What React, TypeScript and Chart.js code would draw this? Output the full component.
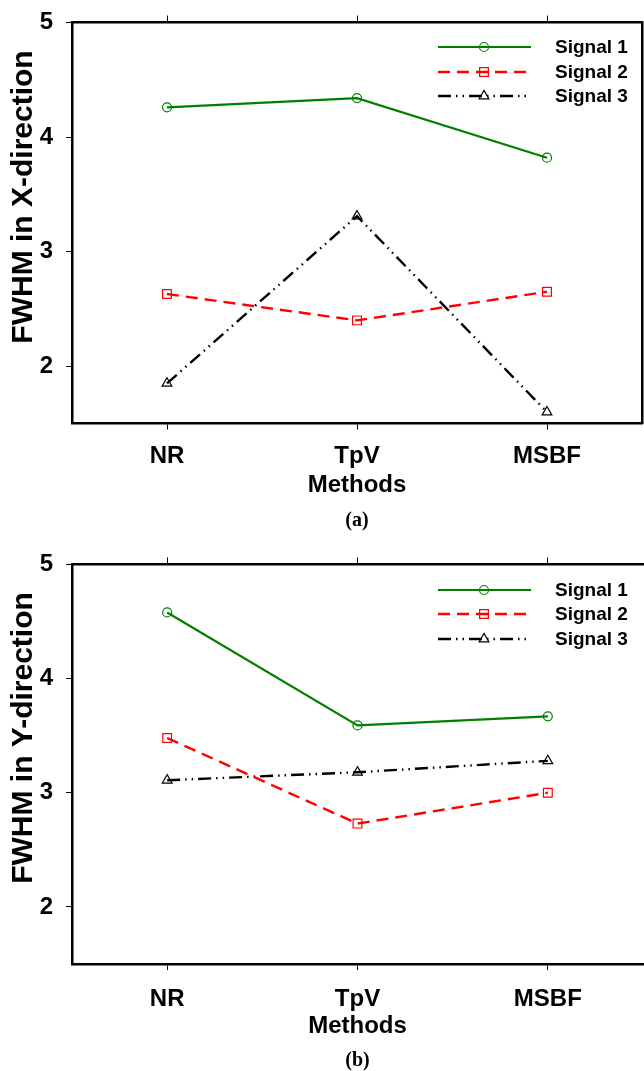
import React, { useEffect, useRef } from "react";
import { Chart, registerables } from "chart.js";

Chart.register(...registerables);

// ---------- data ----------
const methods = ["NR", "TpV", "MSBF"];
const seriesNames = ["Signal 1", "Signal 2", "Signal 3"];
const xDirSignal1 = [4.26, 4.34, 3.82];
const xDirSignal2 = [2.63, 2.4, 2.65];
const xDirSignal3 = [1.85, 3.31, 1.6];
const yDirSignal1 = [4.58, 3.59, 3.67];
const yDirSignal2 = [3.48, 2.73, 3.0];
const yDirSignal3 = [3.11, 3.18, 3.28];
const yTickValues = [2, 3, 4, 5];
const yMin = 1.5;
const yMax = 5;

// ---------- styles ----------
const FONT = '"Liberation Sans", Arial, sans-serif';
const seriesStyles = [
  { color: "#008000", dash: [] as number[], point: "circle", radius: 4.5, width: 2.2 },
  { color: "#ff0000", dash: [12, 7], point: "rect", radius: 6.2, width: 2.4 },
  { color: "#000000", dash: [13, 5, 1.5, 5, 1.5, 5], point: "triangle", radius: 5.6, width: 2.4 },
];

function drawMarker(ctx: CanvasRenderingContext2D, style: string, r: number, x: number, y: number) {
  ctx.beginPath();
  if (style === "circle") {
    ctx.arc(x, y, r, 0, Math.PI * 2);
  } else if (style === "rect") {
    const s = r / Math.SQRT2;
    ctx.rect(x - s, y - s, 2 * s, 2 * s);
  } else {
    let a = 0;
    ctx.moveTo(x + Math.sin(a) * r, y - Math.cos(a) * r);
    a += (2 * Math.PI) / 3;
    ctx.lineTo(x + Math.sin(a) * r, y - Math.cos(a) * r);
    a += (2 * Math.PI) / 3;
    ctx.lineTo(x + Math.sin(a) * r, y - Math.cos(a) * r);
    ctx.closePath();
  }
  ctx.stroke();
}

const customLegend = {
  id: "customLegend",
  afterDatasetsDraw(chart: any, _args: any, opts: any) {
    const ctx: CanvasRenderingContext2D = chart.ctx;
    chart.data.datasets.forEach((ds: any, i: number) => {
      const st = seriesStyles[i];
      const y = opts.ys[i];
      ctx.save();
      ctx.strokeStyle = st.color;
      ctx.lineWidth = st.width;
      ctx.setLineDash(st.dash);
      ctx.beginPath();
      ctx.moveTo(opts.x0, y);
      ctx.lineTo(opts.x1, y);
      ctx.stroke();
      ctx.setLineDash([]);
      ctx.lineWidth = 1.2;
      drawMarker(ctx, st.point, st.radius, opts.xm, y);
      ctx.fillStyle = "#000";
      ctx.font = `bold 19px ${FONT}`;
      ctx.textAlign = "left";
      ctx.textBaseline = "middle";
      ctx.fillText(ds.label, opts.xt, y + 1);
      ctx.restore();
    });
  },
};

const panelText = {
  id: "panelText",
  afterDraw(chart: any, _args: any, opts: any) {
    const ctx: CanvasRenderingContext2D = chart.ctx;
    const { left, right } = chart.chartArea;
    ctx.save();
    ctx.fillStyle = "#000";
    ctx.font = `bold 20px "Liberation Serif", "Times New Roman", serif`;
    ctx.textAlign = "center";
    ctx.textBaseline = "middle";
    ctx.fillText(opts.text, (left + right) / 2, opts.y);
    ctx.restore();
    // y-axis title
    ctx.save();
    ctx.fillStyle = "#000";
    ctx.font = `bold 30px ${FONT}`;
    ctx.textAlign = "center";
    ctx.textBaseline = "middle";
    ctx.translate(opts.yTitleX, opts.yTitleY);
    ctx.rotate(-Math.PI / 2);
    ctx.fillText(opts.yTitle, 0, 0);
    ctx.restore();
  },
};

type PanelProps = {
  top: number;
  height: number;
  values: number[][];
  yTitle: string;
  yTitleY: number;
  label: string;
  labelY: number;
  padTop: number;
  plotBottom: number;
  tickPad: number;
  titlePadBottom: number;
  rightBorder: boolean;
  legendYs: number[];
};

function Panel(p: PanelProps) {
  const ref = useRef<HTMLCanvasElement | null>(null);
  useEffect(() => {
    if (!ref.current) return;
    const tickFont = { family: FONT, size: 24, weight: "bold" as const };
    const scales: any = {
      x: {
        type: "category",
        position: "bottom",
        offset: true,
        grid: { display: true, drawOnChartArea: false, drawTicks: true, tickLength: 6, color: "#000", lineWidth: 1 },
        border: { display: true, color: "#000", width: 2.5 },
        ticks: { color: "#000", font: tickFont, padding: p.tickPad, maxRotation: 0 },
        title: { display: true, text: "Methods", color: "#000", font: tickFont, padding: { top: 0, bottom: p.titlePadBottom } },
        afterFit: (s: any) => {
          s.height = p.height - p.plotBottom;
          s.paddingLeft = 0;
          s.paddingRight = 0;
        },
      },
      xTop: {
        type: "category",
        labels: methods,
        position: "top",
        offset: true,
        grid: { display: true, drawOnChartArea: false, drawTicks: true, tickLength: 7, color: "#000", lineWidth: 1 },
        border: { display: true, color: "#000", width: 2.5 },
        ticks: { display: false },
        afterFit: (s: any) => {
          s.height = 7;
          s.paddingLeft = 0;
          s.paddingRight = 0;
        },
      },
      y: {
        type: "linear",
        position: "left",
        min: yMin,
        max: yMax,
        afterBuildTicks: (s: any) => {
          s.ticks = yTickValues.map((v) => ({ value: v }));
        },
        grid: { display: true, drawOnChartArea: false, drawTicks: true, tickLength: 6, color: "#000", lineWidth: 1 },
        border: { display: true, color: "#000", width: 2.5 },
        ticks: { color: "#000", font: tickFont, padding: 13 },
        afterFit: (s: any) => {
          s.width = 72;
          s.paddingTop = 0;
          s.paddingBottom = 0;
        },
      },
    };
    if (p.rightBorder) {
      scales.yRight = {
        type: "linear",
        position: "right",
        display: true,
        grid: { display: false },
        ticks: { display: false },
        border: { display: true, color: "#000", width: 2.5 },
        afterFit: (s: any) => {
          s.width = 1;
          s.paddingTop = 0;
          s.paddingBottom = 0;
        },
      };
    }
    const chart = new Chart(ref.current, {
      type: "line",
      data: {
        labels: methods,
        datasets: p.values.map((vals, i) => ({
          label: seriesNames[i],
          data: vals,
          xAxisID: "x",
          yAxisID: "y",
          borderColor: seriesStyles[i].color,
          borderWidth: seriesStyles[i].width,
          borderDash: seriesStyles[i].dash,
          pointStyle: seriesStyles[i].point as any,
          pointRadius: seriesStyles[i].radius,
          pointBorderWidth: 1.2,
          pointBorderColor: seriesStyles[i].color,
          pointBackgroundColor: "rgba(0,0,0,0)",
          tension: 0,
          fill: false,
        })),
      },
      options: {
        animation: false,
        responsive: false,
        maintainAspectRatio: false,
        layout: { autoPadding: false, padding: { top: p.padTop, right: 1, left: 0, bottom: 0 } },
        plugins: {
          legend: { display: false },
          tooltip: { enabled: false },
          customLegend: { x0: 438, x1: 531, xm: 484, xt: 555, ys: p.legendYs },
          panelText: { text: p.label, y: p.labelY, yTitle: p.yTitle, yTitleX: 24, yTitleY: p.yTitleY },
        } as any,
        scales,
      },
      plugins: [customLegend, panelText],
    });
    return () => chart.destroy();
  }, []);
  return (
    <canvas
      ref={ref}
      width={644}
      height={p.height}
      style={{ position: "absolute", left: 0, top: p.top, width: 644, height: p.height, display: "block" }}
    />
  );
}

export default function App() {
  return (
    <div style={{ position: "absolute", left: 0, top: 0, width: 644, height: 1071, background: "#fff" }}>
      <Panel
        top={0}
        height={540}
        values={[xDirSignal1, xDirSignal2, xDirSignal3]}
        yTitle="FWHM in X-direction"
        yTitleY={197}
        label="(a)"
        labelY={521}
        padTop={15.5}
        plotBottom={423.5}
        tickPad={12}
        titlePadBottom={40.6}
        rightBorder={true}
        legendYs={[47, 72, 96]}
      />
      <Panel
        top={540}
        height={531}
        values={[yDirSignal1, yDirSignal2, yDirSignal3]}
        yTitle="FWHM in Y-direction"
        yTitleY={198}
        label="(b)"
        labelY={521}
        padTop={17.5}
        plotBottom={424}
        tickPad={14.6}
        titlePadBottom={30.6}
        rightBorder={false}
        legendYs={[50, 74, 99]}
      />
    </div>
  );
}
